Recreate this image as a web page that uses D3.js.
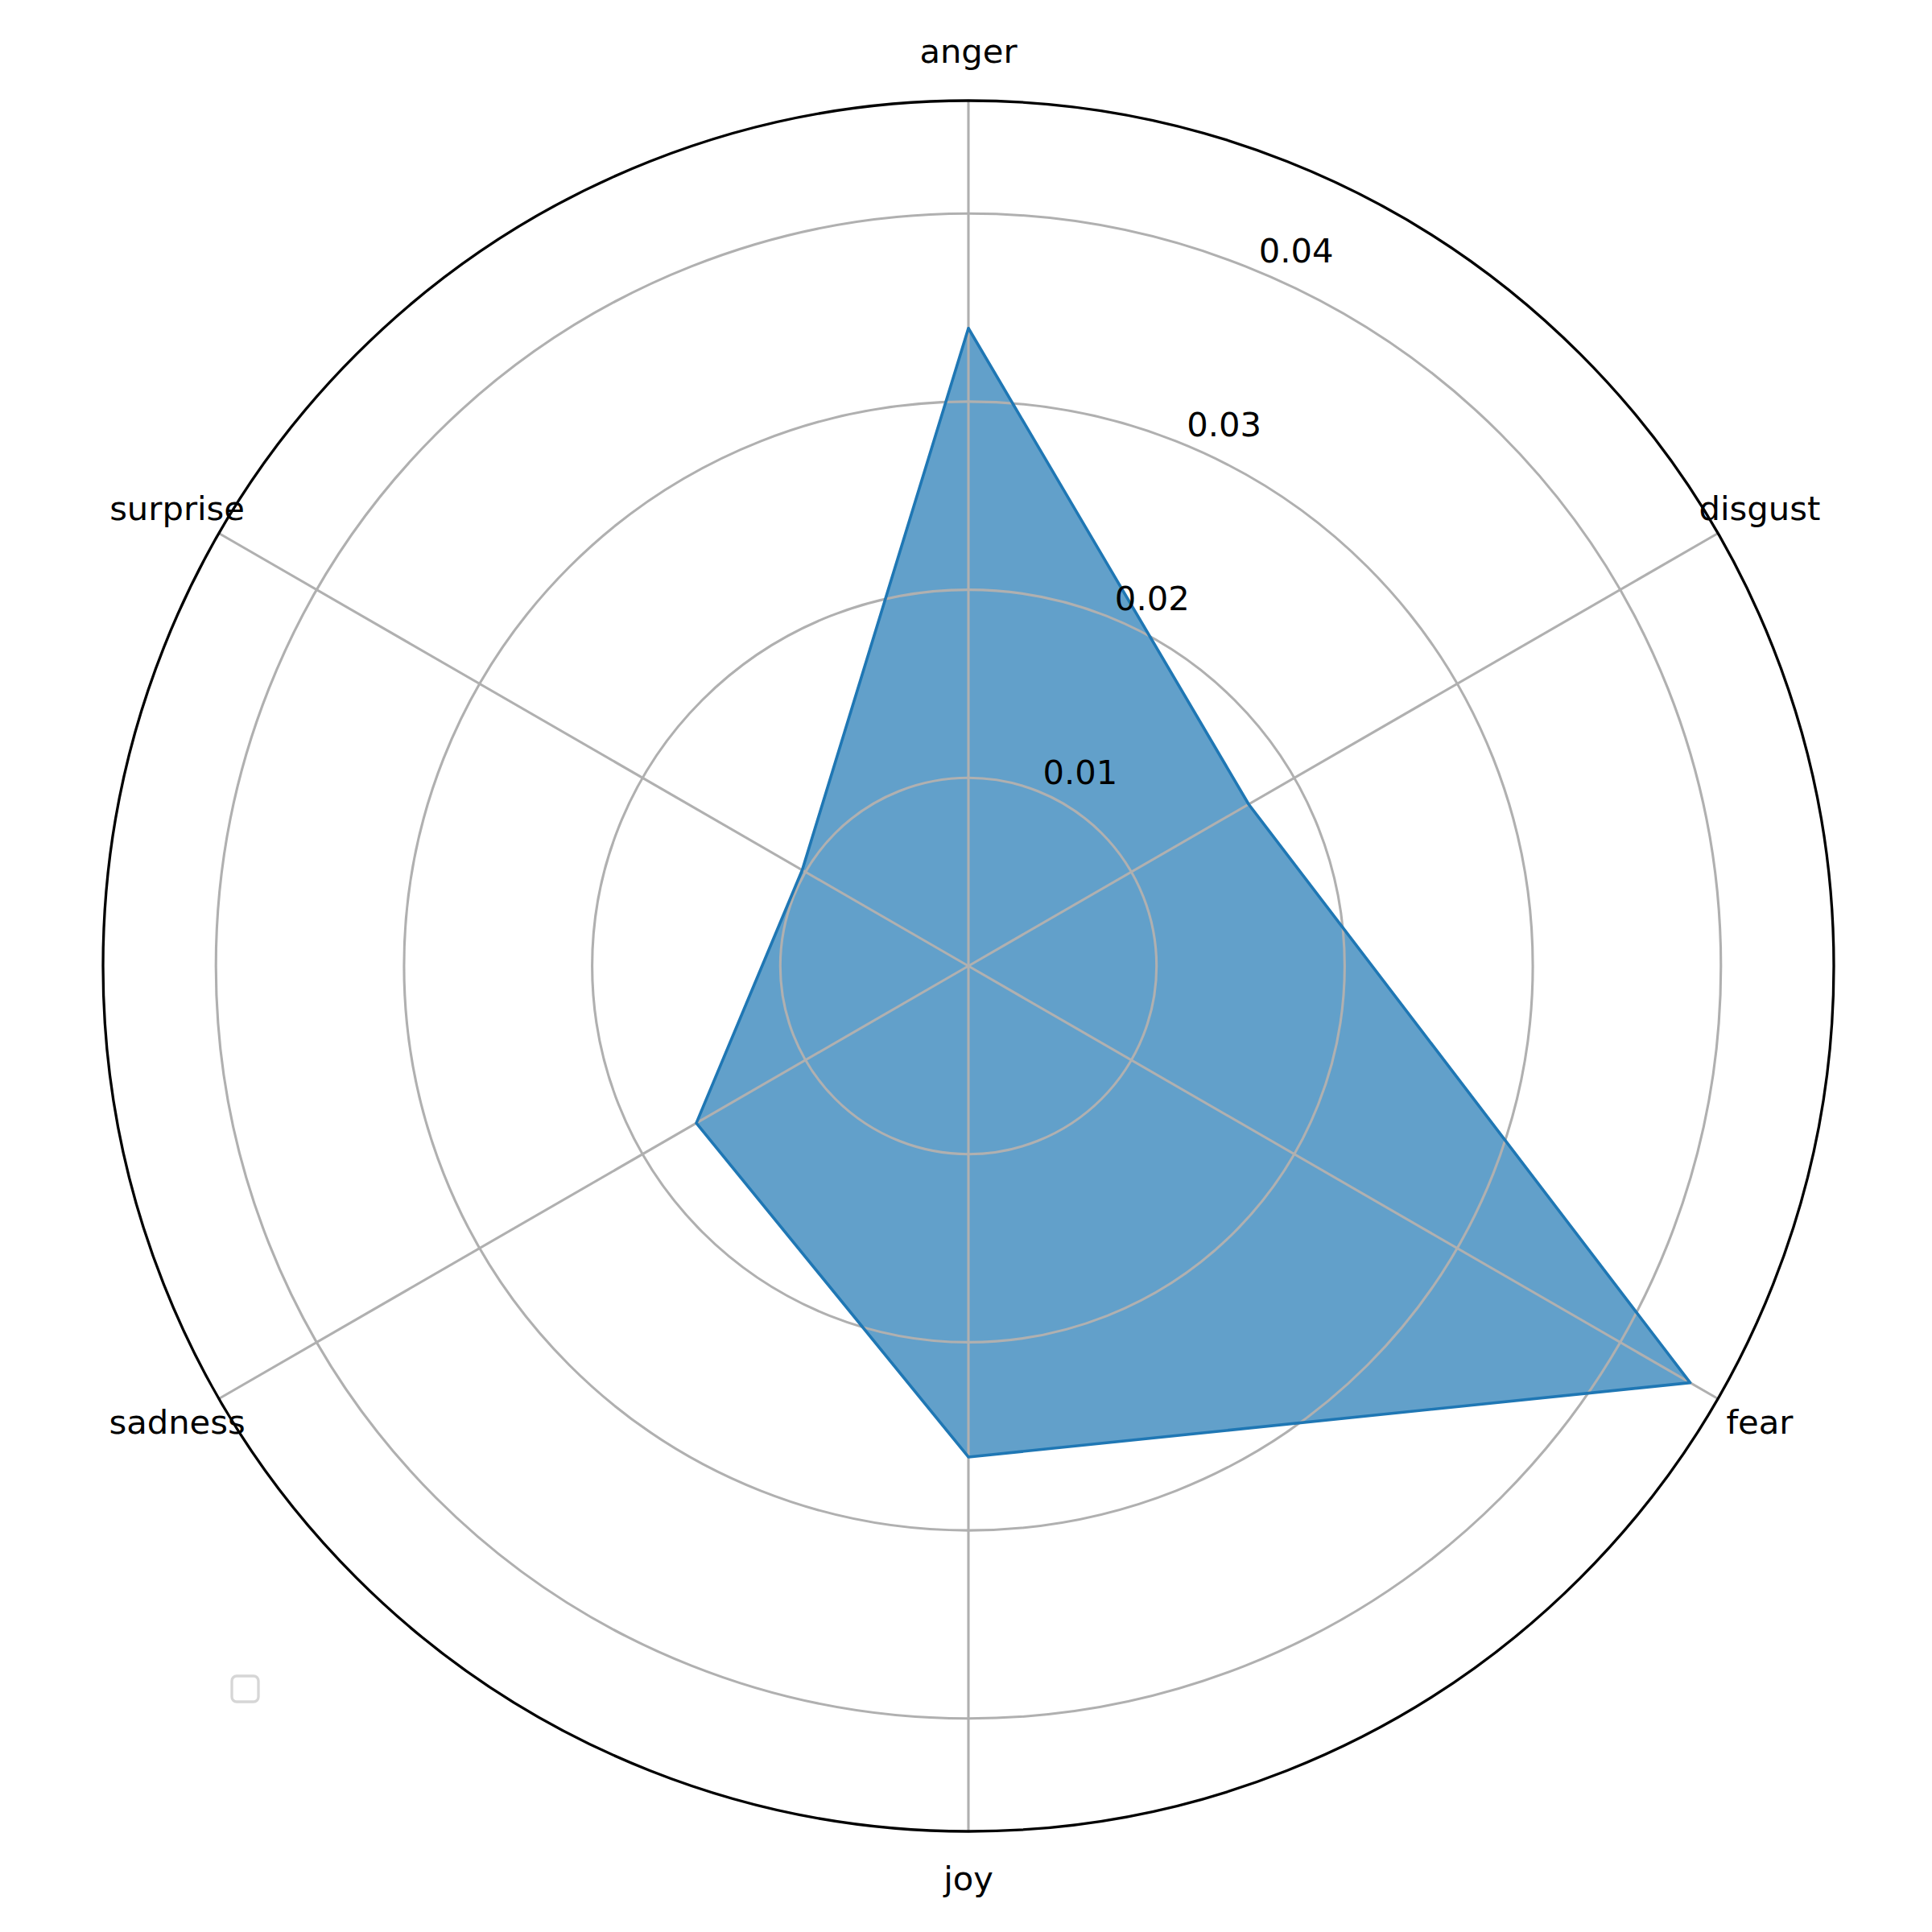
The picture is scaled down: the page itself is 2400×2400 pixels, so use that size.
<!DOCTYPE html>
<html>
<head>
<meta charset="utf-8">
<script src="https://cdn.jsdelivr.net/npm/d3@7"></script>
<style>
  html, body { margin: 0; padding: 0; background: #fff; }
  svg { display: block; }
  text { font-family: "DejaVu Sans", sans-serif; }
</style>
</head>
<body>
<script>
const categories = ["anger", "disgust", "fear", "joy", "sadness", "surprise"];
const values = [0.0339, 0.0172, 0.0443, 0.0261, 0.0167, 0.0102];
const radialTicks = [0.01, 0.02, 0.03, 0.04];
const radialTickLabels = ["0.01", "0.02", "0.03", "0.04"];
const rMax = 0.046;

const W = 2400, H = 2400;
const cx = 1203, cy = 1200, R = 1075;

const svg = d3.select("body").append("svg")
  .attr("width", W).attr("height", H);
svg.append("rect").attr("width", W).attr("height", H).attr("fill", "#fff");

const g = svg.append("g").attr("transform", `translate(${cx},${cy})`);

const r = d3.scaleLinear().domain([0, rMax]).range([0, R]);
const angle = d3.scaleLinear().domain([0, categories.length]).range([0, 2 * Math.PI]);

const data = categories.map((c, i) => ({ c, v: values[i], i }));

const radial = d3.lineRadial()
  .angle(d => angle(d.i))
  .radius(d => r(d.v))
  .curve(d3.curveLinearClosed);

// fill
g.append("path").attr("d", radial(data))
  .attr("fill", "#1f77b4").attr("fill-opacity", 0.7).attr("stroke", "none");

// grid circles
g.selectAll("circle.grid").data(radialTicks).join("circle")
  .attr("class", "grid").attr("r", d => r(d))
  .attr("fill", "none").attr("stroke", "#b0b0b0").attr("stroke-width", 3.1);

// spokes
g.selectAll("line.spoke").data(data).join("line")
  .attr("x1", 0).attr("y1", 0)
  .attr("x2", d => R * Math.sin(angle(d.i)))
  .attr("y2", d => -R * Math.cos(angle(d.i)))
  .attr("stroke", "#b0b0b0").attr("stroke-width", 3.1);

// outline
g.append("path").attr("d", radial(data))
  .attr("fill", "none").attr("stroke", "#1f77b4").attr("stroke-width", 3.6)
  .attr("stroke-linejoin", "round");

// spine
g.append("circle").attr("r", R).attr("fill", "none")
  .attr("stroke", "#000").attr("stroke-width", 3.3);

// category labels
const labR = 1135;
g.selectAll("text.cat").data(data).join("text")
  .attr("class", "cat")
  .attr("x", d => labR * Math.sin(angle(d.i)))
  .attr("y", d => -labR * Math.cos(angle(d.i)))
  .attr("dy", "0.32em")
  .attr("text-anchor", "middle")
  .attr("font-size", 41.7)
  .attr("fill", "#000")
  .text(d => d.c);

// radial tick labels at 22.5 degrees
const rlab = 22.5 * Math.PI / 180;
g.selectAll("text.rt").data(radialTicks).join("text")
  .attr("class", "rt")
  .attr("x", d => r(d) * Math.sin(rlab) + 3)
  .attr("y", d => -r(d) * Math.cos(rlab) - 10)
  .attr("text-anchor", "start")
  .attr("font-size", 41.7)
  .attr("fill", "#000")
  .text((d, i) => radialTickLabels[i]);

// empty legend frame
svg.append("rect")
  .attr("x", 288).attr("y", 2082).attr("width", 33).attr("height", 32)
  .attr("rx", 6).attr("ry", 6)
  .attr("fill", "#fff").attr("fill-opacity", 0.8)
  .attr("stroke", "#cccccc").attr("stroke-opacity", 0.8).attr("stroke-width", 3.3);
</script>
</body>
</html>
